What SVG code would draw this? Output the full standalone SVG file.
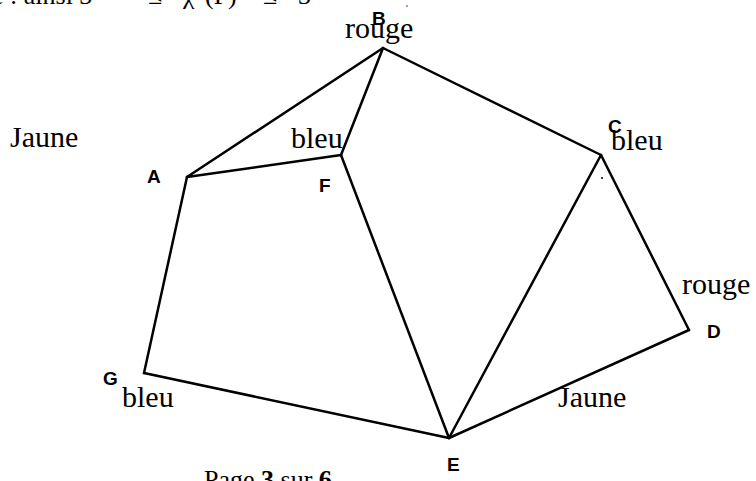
<svg xmlns="http://www.w3.org/2000/svg" width="756" height="481" viewBox="0 0 756 481">
<style>
.edge{stroke:#000;stroke-width:2.5;fill:none;stroke-linecap:round;stroke-linejoin:round}
.lbl{font-family:"Liberation Sans",Arial,sans-serif;font-weight:bold;font-size:19px;fill:#000}
.col{font-family:"Liberation Serif","Times New Roman",serif;font-size:30px;fill:#000}
.pg{font-family:"Liberation Serif","Times New Roman",serif;font-size:26px;fill:#000}
</style>
<rect width="756" height="481" fill="#fff"/>
<text class="pg" y="4" font-size="32"><tspan x="-8">e : ainsi 3</tspan><tspan x="148">≤</tspan><tspan x="183">χ</tspan><tspan x="205">(F)</tspan><tspan x="263">≤</tspan><tspan x="298">3</tspan></text>
<text class="pg" x="204" y="488">Page <tspan font-weight="bold">3</tspan> sur <tspan font-weight="bold">6</tspan></text>
<g id="connectors">
<line class="edge" x1="383" y1="48" x2="187" y2="177"/>
<line class="edge" x1="383" y1="48" x2="341" y2="155"/>
<line class="edge" x1="383" y1="48" x2="601" y2="155"/>
<line class="edge" x1="187" y1="177" x2="341" y2="155"/>
<line class="edge" x1="187" y1="177" x2="144" y2="373"/>
<line class="edge" x1="341" y1="155" x2="449" y2="438"/>
<line class="edge" x1="601" y1="155" x2="449" y2="438"/>
<line class="edge" x1="601" y1="155" x2="689" y2="330"/>
<line class="edge" x1="689" y1="330" x2="449" y2="438"/>
<line class="edge" x1="144" y1="373" x2="449" y2="438"/>
</g>
<circle cx="602" cy="178" r="1" fill="#000"/>
<circle cx="407" cy="6" r="0.7" fill="#000"/>
<g id="node-B"><text class="lbl" x="372" y="25">B</text><text class="col" x="345" y="38">rouge</text></g>
<g id="node-A"><text class="lbl" x="147" y="183">A</text><text class="col" x="10" y="147">Jaune</text></g>
<g id="node-F"><text class="lbl" x="319" y="192">F</text><text class="col" x="291" y="148">bleu</text></g>
<g id="node-C"><text class="lbl" x="608" y="133">C</text><text class="col" x="611" y="150">bleu</text></g>
<g id="node-D"><text class="lbl" x="707" y="338">D</text><text class="col" x="682" y="294">rouge</text></g>
<g id="node-E"><text class="lbl" x="447" y="471">E</text><text class="col" x="558" y="407">Jaune</text></g>
<g id="node-G"><text class="lbl" x="103" y="385">G</text><text class="col" x="122" y="407">bleu</text></g>
</svg>
